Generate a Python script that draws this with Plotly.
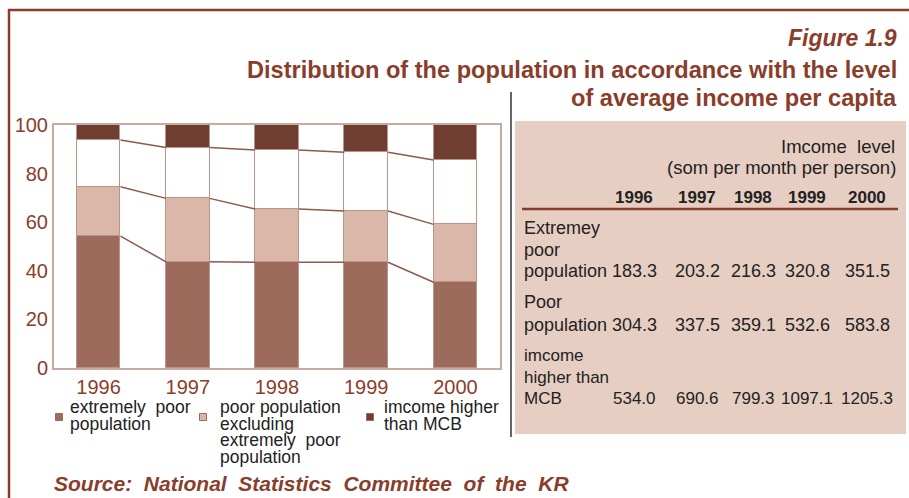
import plotly.graph_objects as go

# ---- data -------------------------------------------------------------
years = ["1996", "1997", "1998", "1999", "2000"]
extremely_poor = [54.3, 43.7, 43.5, 43.5, 35.3]
poor_excl_extreme = [20.3, 26.1, 21.9, 21.1, 23.8]
below_mcb_not_poor = [19.2, 20.9, 24.3, 24.2, 26.5]
above_mcb = [6.2, 9.3, 10.3, 11.2, 14.4]

y_ticks = [0, 20, 40, 60, 80, 100]

table_rows = [
    (["Extremey", "poor", "population"], ["183.3", "203.2", "216.3", "320.8", "351.5"]),
    (["Poor", "population"], ["304.3", "337.5", "359.1", "532.6", "583.8"]),
    (["imcome", "higher than", "MCB"], ["534.0", "690.6", "799.3", "1097.1", "1205.3"]),
]

legend_items = [
    ["extremely  poor", "population"],
    ["poor population", "excluding", "extremely  poor", "population"],
    ["imcome higher", "than MCB"],
]

# ---- style ------------------------------------------------------------
W, H = 909, 498
L, R, T, B = 54, 500, 125, 368          # plot area in pixels
BROWN = "#8b3d2b"
C_EXT = "#9c6b5c"
C_POOR = "#dab7a9"
C_TOP = "#6f3e31"
C_OUTLINE = "#b8948a"
C_LINK = "#8d5a4c"
C_FRAME = "#c9aaa1"
TABLE_BG = "#e6cec3"
TEXT = "#222222"
FONT = "Liberation Sans, Arial, sans-serif"
BAR_W = 0.49


def px(x):
    return (x - L) / (R - L)


def py(y):
    return (B - y) / (B - T)


xs = list(range(len(years)))
series = [
    ("extremely poor population", extremely_poor, C_EXT),
    ("poor population excluding extremely poor population", poor_excl_extreme, C_POOR),
    ("below MCB", below_mcb_not_poor, "#ffffff"),
    ("imcome higher than MCB", above_mcb, C_TOP),
]

fig = go.Figure()
for name, vals, col in series:
    fig.add_trace(go.Bar(
        x=xs, y=vals, name=name, width=BAR_W,
        marker=dict(color=col, line=dict(color=C_OUTLINE, width=1)),
        showlegend=False,
    ))

# lines joining the segment boundaries of neighbouring bars
cum = [0.0] * len(years)
for name, vals, col in series[:-1]:
    cum = [c + v for c, v in zip(cum, vals)]
    lx, ly = [], []
    for i in range(len(years) - 1):
        lx += [xs[i] + BAR_W / 2, xs[i + 1] - BAR_W / 2, None]
        ly += [cum[i], cum[i + 1], None]
    fig.add_trace(go.Scatter(x=lx, y=ly, mode="lines",
                             line=dict(color=C_LINK, width=1.5),
                             showlegend=False, hoverinfo="skip"))

shapes = []
annotations = []

# outer frame lines
shapes.append(dict(type="line", xref="paper", yref="paper",
                   x0=px(8), x1=px(909), y0=py(10), y1=py(10),
                   line=dict(color=BROWN, width=2.5)))
shapes.append(dict(type="line", xref="paper", yref="paper",
                   x0=px(9), x1=px(9), y0=py(9), y1=py(498),
                   line=dict(color=BROWN, width=2.5)))
# divider between chart and table
shapes.append(dict(type="line", xref="paper", yref="paper",
                   x0=px(511), x1=px(511), y0=py(92), y1=py(437),
                   line=dict(color="#333333", width=1.5)))
# table panel
shapes.append(dict(type="rect", xref="paper", yref="paper",
                   x0=px(515), x1=px(906), y0=py(121), y1=py(434),
                   fillcolor=TABLE_BG, line=dict(width=0), layer="below"))
shapes.append(dict(type="line", xref="paper", yref="paper",
                   x0=px(522), x1=px(898), y0=py(209), y1=py(209),
                   line=dict(color=BROWN, width=2.5)))


def text(x, y, s, size, color=TEXT, anchor="left", bold=False, italic=False):
    if bold:
        s = "<b>" + s + "</b>"
    if italic:
        s = "<i>" + s + "</i>"
    annotations.append(dict(xref="paper", yref="paper", x=px(x), y=py(y),
                            text=s, showarrow=False, xanchor=anchor, yanchor="middle",
                            font=dict(size=size, color=color, family=FONT)))


# headings
text(899, 38, "Figure 1.9", 23, BROWN, "right", bold=True, italic=True)
text(899, 70, "Distribution of the population in accordance with the level", 23.6, BROWN,
     "right", bold=True)
text(899, 98, "of average income per capita", 23.6, BROWN, "right", bold=True)

# table
text(897, 146, "Imcome  level", 18.5, TEXT, "right")
text(898, 167, "(som per month per person)", 18.5, TEXT, "right")
col_x = [634, 697, 753, 807, 867]
for cx, yr in zip(col_x, years):
    text(cx, 197, yr, 17, TEXT, "center", bold=True)

row_line_y = [[228, 250, 271], [302, 325], [355, 377, 398]]
for r, ((label_lines, vals), ys) in enumerate(zip(table_rows, row_line_y)):
    size = 17 if r == 2 else 18
    for ln, yy in zip(label_lines, ys):
        text(522, yy, ln, size, TEXT, "left")
    for cx, v in zip(col_x, vals):
        text(cx, ys[-1], v, size, TEXT, "center")

# legend
leg_x = [(59, 68), (203, 218), (370, 382)]
leg_cols = [C_EXT, C_POOR, C_TOP]
for (sx, tx), lines, col in zip(leg_x, legend_items, leg_cols):
    shapes.append(dict(type="rect", xref="paper", yref="paper",
                       x0=px(sx - 3.5), x1=px(sx + 3.5), y0=py(413.5), y1=py(420.5),
                       fillcolor=col, line=dict(color="#9a6a5c", width=1)))
    for k, ln in enumerate(lines):
        text(tx, 407 + 16.7 * k, ln, 17.5, TEXT, "left")

# source line
text(52, 483, "Source:  National  Statistics  Committee  of  the  KR", 21, BROWN, "left",
     bold=True, italic=True)

fig.update_layout(
    width=W, height=H, autosize=False,
    margin=dict(l=L, r=W - R, t=T, b=H - B, pad=0),
    paper_bgcolor="white", plot_bgcolor="white",
    barmode="stack", bargap=0,
    shapes=shapes, annotations=annotations,
    font=dict(family=FONT, color=BROWN),
    xaxis=dict(range=[-0.5, len(years) - 0.5], tickmode="array", tickvals=xs, ticktext=years,
               showgrid=False, zeroline=False, showline=True, mirror=True,
               linecolor=C_FRAME, linewidth=2, ticks="",
               tickfont=dict(size=20, color=BROWN, family=FONT)),
    yaxis=dict(range=[0, 100], tickvals=y_ticks, showgrid=False, zeroline=False,
               showline=True, mirror=True, linecolor=C_FRAME, linewidth=2, ticks="",
               tickfont=dict(size=20, color=BROWN, family=FONT)),
)

fig.write_html("out.html")
